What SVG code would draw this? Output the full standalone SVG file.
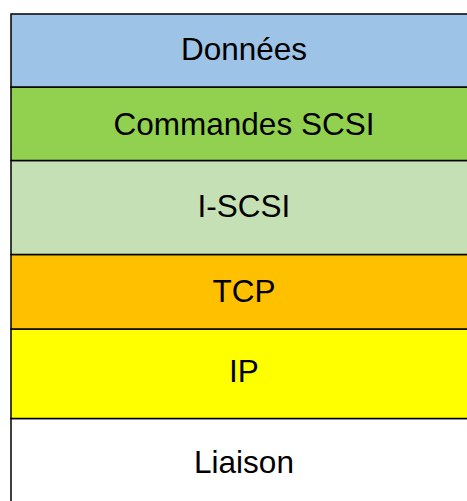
<svg xmlns="http://www.w3.org/2000/svg" width="467" height="501" viewBox="0 0 467 501">
<style>
.layer rect{stroke:#000;stroke-width:1.5}
.layer text{font-family:"Liberation Sans",Arial,sans-serif;font-size:31.5px;fill:#000;text-anchor:middle}
</style>
<rect width="467" height="501" fill="#fff"/>
<g id="liaison" class="layer"><rect x="11" y="418.5" width="470" height="100" fill="#fff"/><text x="244" y="473">Liaison</text></g>
<g id="ip" class="layer"><rect x="11" y="329" width="470" height="89.5" fill="#ffff00"/><text x="244" y="382">IP</text></g>
<g id="tcp" class="layer"><rect x="11" y="254.5" width="470" height="74.5" fill="#ffc000"/><text x="244" y="302">TCP</text></g>
<g id="iscsi" class="layer"><rect x="11" y="160.5" width="470" height="94" fill="#c5e0b4"/><text x="244" y="217">I-SCSI</text></g>
<g id="commandes" class="layer"><rect x="11" y="87" width="470" height="73.5" fill="#92d050"/><text x="244" y="135">Commandes SCSI</text></g>
<g id="donnees" class="layer"><rect x="11" y="14" width="470" height="73" fill="#9dc3e6"/><text x="244" y="60">Données</text></g>
<g id="connectors"/>
</svg>
